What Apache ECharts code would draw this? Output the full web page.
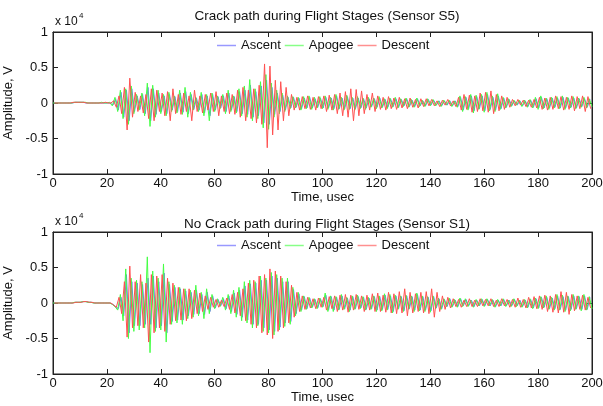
<!DOCTYPE html>
<html><head><meta charset="utf-8">
<script src="https://cdn.jsdelivr.net/npm/echarts/dist/echarts.min.js"></script>
<style>html,body{margin:0;padding:0;background:#fff}#c{width:603px;height:406px}</style>
</head><body><div id="c"></div>
<script>
// Amplitudes in units of 100 V (axis shows x10^4 V); one sample per usec.
const seriesNames = ['Ascent', 'Apogee', 'Descent'];
const xTicks = [0, 20, 40, 60, 80, 100, 120, 140, 160, 180, 200];
const yTicks = [-1, -0.5, 0, 0.5, 1];
const titles = ['Crack path during Flight Stages (Sensor S5)', 'No Crack path during Flight Stages (Sensor S1)'];
// sample start times (usec) of each trace
const startAscent = 0.25, startApogee = 0, startDescent = 0.5;

const s5Ascent = [
0,0,0,0,0,0,0,0,1,1, 1,1,0,0,0,0,0,0,0,0,
0,0,-3,6,-10,15,-20,18,-25,20, -12,10,-9,12,-15,22,-25,20,-16,14,
-12,10,-15,12,-10,9,-12,14,-13,16, -15,12,-9,7,-10,12,-14,10,-18,12,
-10,9,-7,10,-12,14,-10,9,-12,16, -15,18,-16,25,-20,16,-18,24,-28,32,
-30,22,-16,14,-12,11,-10,8,-7,8, -6,7,-8,7,-7,8,-7,6,-6,7,
-7,8,-7,7,-8,10,-8,7,-8,9, -8,7,-8,7,-7,6,-7,6,-5,6,
-6,7,-6,5,-6,6,-5,6,-6,5, -4,6,-5,4,-5,6,-4,3,-4,5,
-3,4,-3,3,-4,3,-3,3,-4,3, -5,8,-10,8,-8,10,-11,9,-8,10,
-11,12,-9,8,-10,10,-8,7,-6,5, -4,3,-3,3,-4,3,-5,4,-6,6,
-7,8,-7,6,-7,7,-6,7,-7,8, -7,7,-6,7,-7,6,-5,6,-6,5];
const s5Apogee = [
0,0,0,0,0,0,0,0,1,1, 1,1,1,0,0,0,0,0,1,0,
0,1,-4,8,-12,18,-22,20,-30,24, -15,12,-10,14,-18,28,-33,25,-20,18,
-15,12,-18,15,-12,10,-14,18,-16,22, -20,15,-10,8,-12,15,-18,12,-25,14,
-12,10,-8,12,-15,18,-12,10,-14,20, -18,24,-20,33,-25,20,-22,30,-35,40,
-37,28,-20,18,-15,14,-12,10,-8,9, -7,8,-10,9,-8,10,-9,8,-7,9,
-8,10,-9,8,-10,12,-9,8,-10,11, -9,8,-10,9,-8,7,-9,8,-6,7,
-8,9,-7,6,-8,7,-6,8,-7,6, -5,7,-6,5,-6,7,-5,4,-5,6,
-4,5,-4,3,-5,4,-3,4,-5,3, -6,10,-12,9,-10,12,-14,11,-9,12,
-13,15,-11,10,-12,13,-9,8,-7,6, -5,4,-3,4,-5,4,-6,5,-7,8,
-9,10,-8,7,-9,8,-7,9,-8,10, -9,8,-7,9,-8,7,-6,8,-7,6, -5];
const s5Descent = [
0,0,0,0,0,0,0,1,1,1, 1,1,0,0,0,0,0,0,0,1,
0,0,3,-6,10,-15,22,-38,35,-20, 15,-12,10,-14,12,-22,20,-25,18,-12,
14,-18,16,-25,20,-15,12,-16,14,-12, 10,-25,18,-12,10,-14,12,-10,14,-12,
16,-18,10,-12,14,-15,12,-16,18,-20, 22,-25,18,-22,20,-28,25,-30,55,-63,
52,-45,32,-38,30,-25,22,-18,12,-10, 8,-10,9,-8,10,-9,8,-10,9,-8,
10,-12,11,-10,12,-15,14,-18,16,-20, 20,-25,19,-18,17,-15,12,-10,14,-12,
10,-9,8,-10,9,-8,7,-9,8,-7, 6,-8,7,-6,5,-7,6,-5,6,-4,
5,-4,3,-5,4,-3,5,-4,3,-5, 8,-10,12,-9,11,-13,10,-12,14,-11,
15,-13,17,-15,12,-11,10,-9,8,-6, 5,-4,5,-3,4,-5,4,-6,5,-7,
8,-9,7,-10,8,-9,10,-8,9,-10, 8,-9,10,-11,9,-8,10,-12,9,-8];

const s1Ascent = [
0,0,0,0,0,0,0,0,1,1, 1,2,2,1,1,0,0,0,0,0,
0,0,-2,-5,-8,8,-18,40,-42,30, -32,28,-32,26,-30,35,-30,38,-35,30,
-32,42,-42,26,-26,22,-24,20,-24,17, -18,15,-16,18,-15,12,-16,15,-12,10,
-7,5,-4,6,-8,10,-12,14,-16,18, -20,24,-24,27,-30,28,-30,32,-35,32,
-38,38,-40,35,-34,30,-28,30,-26,19, -15,13,-10,9,-8,7,-6,5,-7,6,
-5,11,-10,9,-10,8,-9,10,-8,7, -10,9,-8,9,-7,8,-9,7,-8,9,
-10,9,-9,11,-9,10,-12,10,-8,9, -11,10,-8,9,-10,12,-10,9,-10,8,
-11,9,-7,6,-8,5,-5,6,-5,4, -5,6,-4,5,-4,4,-5,4,-4,5,
-4,5,-4,4,-5,4,-4,5,-4,4, -4,5,-4,4,-5,4,-6,5,-7,6,
-7,8,-6,8,-8,7,-8,10,-9,9, -10,9,-9,10,-8,9,-9,10,-9,8];
const s1Apogee = [
0,0,0,0,0,0,0,0,1,1, 1,2,2,1,1,0,0,0,0,0,
0,0,-2,-5,-10,12,-25,48,-50,35, -40,32,-38,30,-35,65,-70,45,-40,35,
-38,55,-55,30,-30,25,-28,22,-30,20, -22,18,-20,25,-18,15,-22,20,-15,12,
-8,6,-5,8,-10,12,-15,18,-20,22, -25,30,-28,32,-35,30,-32,38,-40,35,
-42,43,-45,40,-38,35,-33,35,-30,22, -18,15,-12,10,-9,8,-7,6,-8,7,
-6,14,-12,10,-12,9,-10,12,-9,8, -12,10,-9,11,-8,9,-10,8,-9,10,
-12,10,-11,13,-10,12,-14,11,-9,10, -12,11,-9,10,-12,14,-11,10,-12,9,
-13,10,-8,7,-9,6,-5,7,-6,5, -6,7,-5,6,-5,4,-6,5,-4,6,
-5,6,-4,5,-6,5,-4,6,-5,4, -5,6,-5,4,-6,5,-7,6,-8,7,
-8,9,-7,10,-9,8,-10,12,-10,11, -12,10,-11,12,-9,10,-11,12,-10,9, -8];
const s1Descent = [
0,0,0,0,0,0,0,0,1,1, 1,2,2,1,1,0,0,0,0,0,
0,0,-3,-6,8,-15,30,-48,52,-35, 30,-32,40,-35,28,-55,40,-42,38,-35,
40,-40,35,-30,28,-25,22,-24,20,-25, 20,-22,18,-15,14,-12,10,-9,8,-6,
5,-6,4,-5,7,-9,12,-14,15,-18, 20,-25,28,-30,32,-35,38,-42,40,-45,
48,-50,45,-40,38,-35,30,-28,25,-20, 15,-12,10,-9,8,-7,6,-8,7,-6,
8,-10,9,-8,10,-12,11,-10,12,-13, 11,-10,12,-9,10,-12,11,-10,13,-12,
14,-12,11,-13,15,-14,13,-15,16,-14, 20,-18,15,-14,13,-12,15,-14,16,-15,
20,-20,15,-12,10,-9,8,-7,6,-5, 5,-6,4,-5,6,-5,4,-5,6,-4,
5,-4,6,-5,4,-5,6,-4,5,-6, 5,-6,7,-6,5,-7,8,-7,9,-8,
10,-9,11,-12,10,-13,12,-14,16,-13, 15,-16,12,-11,10,-9,11,-10,8,-7];

const colors = ['#7070ff', '#44ff44', '#ff5050'];
const legendColors = ['#9999ff', '#88ff88', '#ff9090'];
const FONT = 'Liberation Sans, Arial, Helvetica, sans-serif';
const TXT = '#111';
const grids = [{top: 32}, {top: 232}];

function pairs(vals, t0) { return vals.map((v, i) => [t0 + i, v]); }

const xAxis = [], yAxis = [];
grids.forEach((g, gi) => {
  const base = {
    gridIndex: gi, type: 'value', min: 0, max: 200, interval: 20,
    axisLine: {show: true, onZero: false, lineStyle: {color: '#222', width: 1}},
    axisTick: {show: true, inside: true, length: 5, lineStyle: {color: '#222'}},
    splitLine: {show: false}
  };
  xAxis.push(Object.assign({}, base, {
    position: 'bottom', name: 'Time, usec', nameLocation: 'middle', nameGap: 14,
    nameTextStyle: {fontSize: 13, color: TXT, fontFamily: FONT},
    axisLabel: {show: true, margin: 3, fontSize: 13, color: TXT, fontFamily: FONT,
      formatter: v => xTicks.includes(v) ? String(v) : ''}
  }));
  xAxis.push(Object.assign({}, base, {position: 'top', axisLabel: {show: false}}));
  const ybase = {
    gridIndex: gi, type: 'value', min: -100, max: 100, interval: 50,
    axisLine: {show: true, onZero: false, lineStyle: {color: '#222', width: 1}},
    axisTick: {show: true, inside: true, length: 5, lineStyle: {color: '#222'}},
    splitLine: {show: false}
  };
  yAxis.push(Object.assign({}, ybase, {
    position: 'left', name: 'Amplitude, V', nameLocation: 'middle', nameGap: 30,
    nameTextStyle: {fontSize: 13, color: TXT, fontFamily: FONT},
    axisLabel: {show: true, margin: 5, fontSize: 13, color: TXT, fontFamily: FONT,
      formatter: v => String(yTicks[Math.round((v + 100) / 50)])}
  }));
  yAxis.push(Object.assign({}, ybase, {position: 'right', axisLabel: {show: false}}));
});

const traces = [
  [s5Ascent, s5Apogee, s5Descent],
  [s1Ascent, s1Apogee, s1Descent]
];
const starts = [startAscent, startApogee, startDescent];
const series = [];
traces.forEach((set, gi) => {
  set.forEach((vals, k) => {
    series.push({
      type: 'line', name: seriesNames[k], xAxisIndex: gi * 2, yAxisIndex: gi * 2,
      data: pairs(vals, starts[k]), symbol: 'none', showSymbol: false,
      lineStyle: {color: colors[k], width: 1}, itemStyle: {color: legendColors[k]},
      silent: true, z: 2 + k
    });
  });
});

const chart = echarts.init(document.getElementById('c'), null, {renderer: 'canvas'});
chart.setOption({
  animation: false,
  backgroundColor: '#fff',
  title: titles.map((t, i) => ({
    text: t, left: 322, top: i === 0 ? 4 : 212, textAlign: 'center',
    textStyle: {fontSize: 13.5, fontWeight: 'normal', color: TXT, fontFamily: FONT}
  })),
  legend: grids.map((g, i) => ({
    show: true, z: 10,
    data: seriesNames.map(n => ({name: n, icon: 'rect'})),
    left: 217, top: g.top + 7, itemWidth: 19, itemHeight: 1.5, itemGap: 4,
    padding: 0,
    textStyle: {fontSize: 13, color: TXT, fontFamily: FONT},
    selectedMode: false
  })),
  grid: grids.map(g => ({left: 53, top: g.top, width: 539, height: 142, show: true,
    borderColor: '#222', borderWidth: 1, backgroundColor: '#fff', outerBoundsMode: 'none', containLabel: false})),
  xAxis: xAxis,
  yAxis: yAxis,
  series: series,
  graphic: grids.flatMap(g => [
    {type: 'text', left: 55, top: g.top - 16, style: {text: 'x 10', fontSize: 12, fill: TXT, fontFamily: FONT}},
    {type: 'text', left: 79, top: g.top - 20, style: {text: '4', fontSize: 8, fill: TXT, fontFamily: FONT}}
  ])
});
</script></body></html>
